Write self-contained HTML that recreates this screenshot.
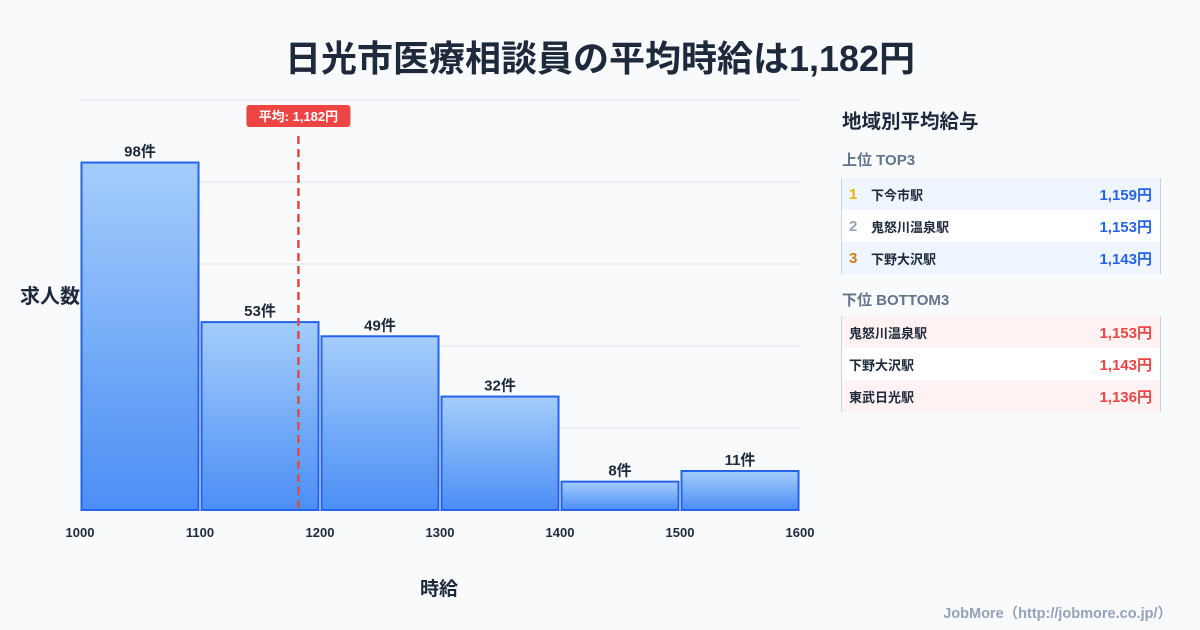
<!DOCTYPE html>
<html><head><meta charset="utf-8"><style>
body{margin:0;width:1200px;height:630px;background:#f8fafc;font-family:"Liberation Sans","Noto Sans CJK JP",sans-serif;position:relative;overflow:hidden;color:#1e293b}
.t{position:absolute;white-space:nowrap}
.tbl{position:absolute;left:841px;width:318px;border-left:1px solid #cbd5e1;border-right:1px solid #cbd5e1}
.row{height:32px;position:relative;font-size:13px;font-weight:bold;display:flex;align-items:center}
.rk{width:22px;padding-left:7px;font-size:15px}
.nm{flex:1}
.v{padding-right:8px;font-size:15px}
</style></head><body>
<div class="t" style="left:0;width:1200px;text-align:center;top:30px;font-size:36px;font-weight:bold;color:#1e293b">日光市医療相談員の平均時給は1,182円</div>
<svg id="chart" width="820" height="630" style="position:absolute;left:0;top:0">
<defs><linearGradient id="g" x1="0" y1="0" x2="0" y2="1"><stop offset="0" stop-color="#a5cdfb"/><stop offset="1" stop-color="#4b8ef5"/></linearGradient></defs>
</svg>
<div class="t" style="left:20px;top:280px;font-size:20px;font-weight:bold">求人数</div>
<div class="t" style="left:420px;top:574px;font-size:19px;font-weight:bold">時給</div>
<div class="t" style="left:842px;top:105px;font-size:19.5px;font-weight:bold">地域別平均給与</div>
<div class="t" style="left:842px;top:149px;font-size:15px;font-weight:bold;color:#64748b">上位 TOP3</div>
<div class="tbl" style="top:178px">
<div class="row" style="background:#eff6ff"><span class="rk" style="color:#eab308">1</span><span class="nm">下今市駅</span><span class="v" style="color:#2563eb">1,159円</span></div>
<div class="row" style="background:#fff"><span class="rk" style="color:#94a3b8">2</span><span class="nm">鬼怒川温泉駅</span><span class="v" style="color:#2563eb">1,153円</span></div>
<div class="row" style="background:#eff6ff"><span class="rk" style="color:#d97706">3</span><span class="nm">下野大沢駅</span><span class="v" style="color:#2563eb">1,143円</span></div>
</div>
<div class="t" style="left:842px;top:289px;font-size:15px;font-weight:bold;color:#64748b">下位 BOTTOM3</div>
<div class="tbl" style="top:316px">
<div class="row" style="background:#fef2f2"><span class="nm" style="padding-left:7px">鬼怒川温泉駅</span><span class="v" style="color:#ef4444">1,153円</span></div>
<div class="row" style="background:#fff"><span class="nm" style="padding-left:7px">下野大沢駅</span><span class="v" style="color:#ef4444">1,143円</span></div>
<div class="row" style="background:#fef2f2"><span class="nm" style="padding-left:7px">東武日光駅</span><span class="v" style="color:#ef4444">1,136円</span></div>
</div>
<div class="t" style="right:28px;top:602px;font-size:14.5px;font-weight:bold;color:#94a3b8">JobMore（http://jobmore.co.jp/）</div>
<script>
const binStarts=[1000,1100,1200,1300,1400,1500];
const counts=[98,53,49,32,8,11];
const xTicks=[1000,1100,1200,1300,1400,1500,1600];
const avgWage=1182;
const NS="http://www.w3.org/2000/svg";
const svg=document.getElementById('chart');
const x0=80,x1=800,yb=510,yt=100,xmin=1000,xmax=1600,ymax=Math.max(...counts)*1.18;
const X=v=>x0+(v-xmin)/(xmax-xmin)*(x1-x0);
const Y=v=>yb-v/ymax*(yb-yt);
function mk(t,a){const e=document.createElementNS(NS,t);for(const k in a)e.setAttribute(k,a[k]);svg.appendChild(e);return e;}
for(let i=0;i<=5;i++){const yy=yt+i*(yb-yt)/5;const l=mk('line',{x1:x0,x2:x1,y1:yy,y2:yy,stroke:'#e2e8f0','stroke-width':1});

}
binStarts.forEach((b,i)=>{
const w=X(b+100)-X(b);
const r=mk('rect',{x:X(b)+1.5,y:Y(counts[i]),width:w-3,height:yb-Y(counts[i]),fill:'url(#g)',stroke:'#2563eb','stroke-width':2});


const t=mk('text',{x:X(b)+w/2,y:Y(counts[i])-6,'text-anchor':'middle','font-size':15,'font-weight':'bold',fill:'#1e293b'});
t.textContent=counts[i]+'件';


});
xTicks.forEach(v=>{const t=mk('text',{x:X(v),y:537,'text-anchor':'middle','font-size':13,'font-weight':'bold',fill:'#1e293b'});t.textContent=v;

});
const ax=X(avgWage);
const al=mk('line',{x1:ax,x2:ax,y1:136,y2:yb,stroke:'#ef4444','stroke-width':2.5,'stroke-dasharray':'8,5'});


const bg=mk('rect',{x:ax-52,y:105,width:104,height:22,rx:3,fill:'#ef4444'});


const at=mk('text',{x:ax,y:121,'text-anchor':'middle','font-size':13,'font-weight':'bold',fill:'#fff'});
at.textContent='平均: 1,182円';


</script>
</body></html>
